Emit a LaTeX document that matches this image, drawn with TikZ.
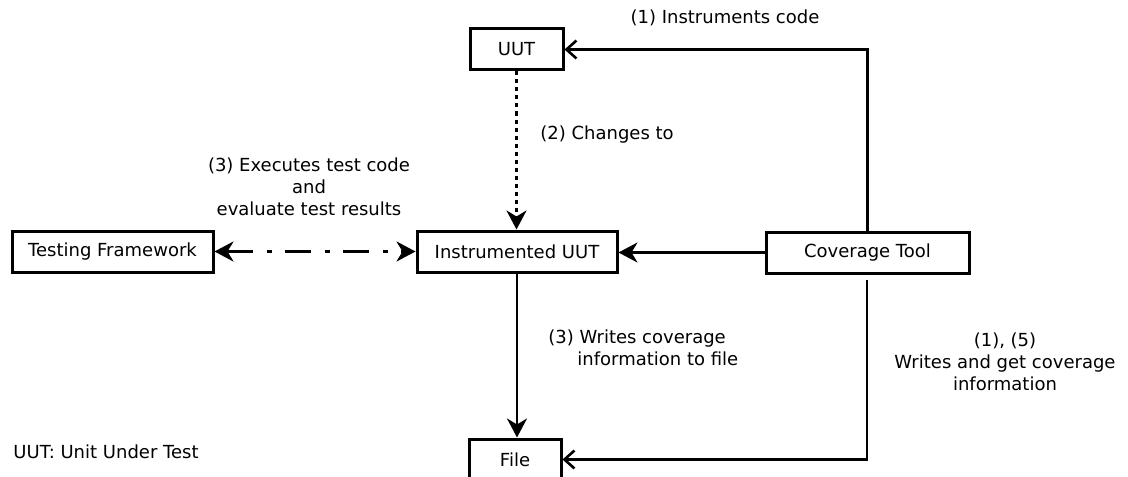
\documentclass[tikz,border=0pt]{standalone}
\usepackage{fontspec}
\setmainfont{DejaVu Sans}
\usetikzlibrary{arrows.meta,positioning}

\begin{document}
\begin{tikzpicture}[x=0.5pt, y=-0.5pt,
    every node/.style={font=\fontsize{9}{11}\selectfont},
    box/.style={draw, line width=1.5pt, minimum height=20.5pt, inner sep=0pt},
    conn/.style={line width=1.3pt},
    fillhead/.style={conn, -{Stealth[length=9.5pt, width=10pt, inset=3pt]}},
    openhead/.style={conn, -{Straight Barb[length=5pt, width=9pt, line width=1.3pt]}},
    dotline/.style={fillhead, dash pattern=on 2pt off 2pt},
    dashdotline/.style={conn, {Stealth[length=9.5pt, width=10pt, inset=3pt]}-{Stealth[length=9.5pt, width=10pt, inset=3pt]}, dash pattern=on 13pt off 7pt on 2.5pt off 6.5pt},
    lbl/.style={inner sep=0pt, align=center}]
    \useasboundingbox (0,0) rectangle (1128,476);
    % boxes
    \node[box, minimum width=46.5pt] (uut) at (516.5,49.5) {UUT};
    \node[box, minimum width=100.5pt] (tf) at (112.5,251.5) {Testing Framework};
    \node[box, minimum width=100pt] (iuut) at (517,251.5) {Instrumented UUT};
    \node[box, minimum width=101.5pt] (cov) at (867.5,252.5) {Coverage Tool};
    \node[box, minimum width=46pt] (file) at (515,459.5) {File};
    \coordinate (covfoot) at (867,280);
    % connectors
    \draw[openhead] (cov.north) |- (uut.east);
    \draw[dotline] (uut.south) -- (uut.south |- iuut.north);
    \draw[fillhead] (cov.west) -- (cov.west -| iuut.east);
    \draw[dashdotline] (tf.east) -- (tf.east -| iuut.west);
    \draw[fillhead] (iuut.south) -- (iuut.south |- file.north);
    \draw[openhead] (covfoot) |- (file.east);
    % labels
    \node[lbl] (l1) at (725,18) {(1) Instruments code};
    \node[lbl, anchor=west] (l2) at (540,135) {(2) Changes to};
    \node[lbl] (l3) at (309,187) {(3) Executes test code\\and\\evaluate test results};
    \node[lbl, align=left, anchor=north west] (l4) at (548,329) {(3) Writes coverage\\\hspace{14.5pt}information to file};
    \node[lbl] (l5) at (1005,361.5) {(1), (5)\\Writes and get coverage\\information};
    \node[lbl, anchor=west] (legend) at (13,452) {UUT: Unit Under Test};
\end{tikzpicture}
\end{document}
